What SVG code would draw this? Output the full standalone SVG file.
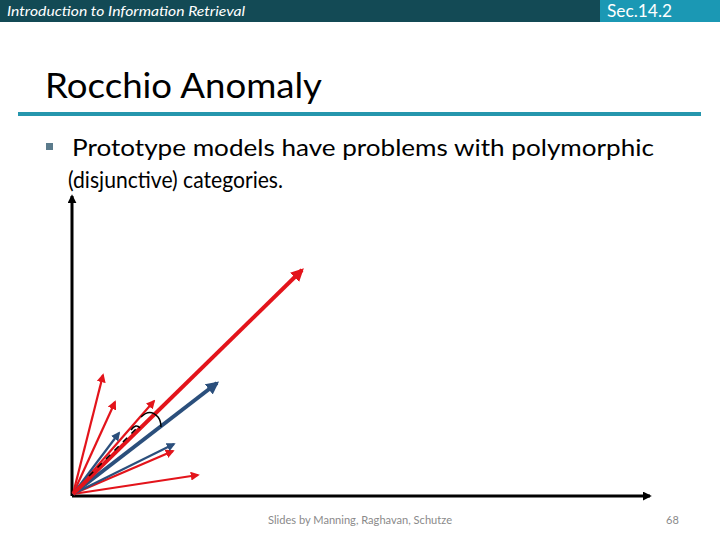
<svg xmlns="http://www.w3.org/2000/svg" width="720" height="540" viewBox="0 0 720 540">
<style>
.hdr{font-family:Lato,"Liberation Sans",Arial,sans-serif;fill:#ffffff}
.title{font-family:Lato,"Liberation Sans",Arial,sans-serif;font-size:35px;fill:#000}
.body{font-family:Lato,"Liberation Sans",Arial,sans-serif;font-size:24px;fill:#000}
.foot{font-family:Lato,"Liberation Sans",Arial,sans-serif;font-size:11px;fill:#8a8a8a}
.red{stroke:#e3141b;fill:none}
.blue{stroke:#2b4f7c;fill:none}
.axis{stroke:#000;stroke-width:3;fill:none}
</style>
<defs>
<marker id="ar" viewBox="0 0 10 10" refX="8" refY="5" markerWidth="9" markerHeight="9" markerUnits="userSpaceOnUse" orient="auto"><path d="M0,0L10,5L0,10z" fill="#e3141b"/></marker>
<marker id="arL" viewBox="0 0 10 10" refX="8" refY="5" markerWidth="13" markerHeight="13" markerUnits="userSpaceOnUse" orient="auto"><path d="M0,0L10,5L0,10z" fill="#e3141b"/></marker>
<marker id="ab" viewBox="0 0 10 10" refX="8" refY="5" markerWidth="9" markerHeight="9" markerUnits="userSpaceOnUse" orient="auto"><path d="M0,0L10,5L0,10z" fill="#2b4f7c"/></marker>
<marker id="abL" viewBox="0 0 10 10" refX="8" refY="5" markerWidth="13" markerHeight="13" markerUnits="userSpaceOnUse" orient="auto"><path d="M0,0L10,5L0,10z" fill="#2b4f7c"/></marker>
<marker id="ak" viewBox="0 0 10 10" refX="8" refY="5" markerWidth="9" markerHeight="9" markerUnits="userSpaceOnUse" orient="auto"><path d="M0,0L10,5L0,10z" fill="#000"/></marker>
</defs>
<rect width="720" height="540" fill="#fff"/>
<g id="header">
<rect x="0" y="0" width="600" height="22" fill="#134a55"/>
<rect x="600" y="0" width="120" height="22" fill="#1b98b4"/>
<text class="hdr" x="7" y="16" font-size="14" font-style="italic" textLength="238" lengthAdjust="spacingAndGlyphs">Introduction to Information Retrieval</text>
<text class="hdr" x="607" y="17" font-size="17" textLength="65" lengthAdjust="spacingAndGlyphs">Sec.14.2</text>
</g>
<g id="title">
<text class="title" x="45" y="98" textLength="277" lengthAdjust="spacingAndGlyphs">Rocchio Anomaly</text>
<rect x="18" y="112" width="683" height="4" fill="#2596ad"/>
</g>
<g id="bullet">
<rect x="46" y="143" width="7" height="7" fill="#5b7b8c"/>
<text class="body" x="72" y="156" textLength="582" lengthAdjust="spacingAndGlyphs">Prototype models have problems with polymorphic</text>
<text class="body" x="68" y="188" textLength="215" lengthAdjust="spacingAndGlyphs">(disjunctive) categories.</text>
</g>
<g id="connectors">
<line class="axis" x1="72" y1="496" x2="72" y2="196" marker-end="url(#ak)"/>
<line class="axis" x1="72" y1="496" x2="650" y2="496" marker-end="url(#ak)"/>
<line class="red" stroke-width="2.2" x1="73" y1="494" x2="103" y2="375" marker-end="url(#ar)"/>
<line class="red" stroke-width="2.2" x1="73" y1="494" x2="115" y2="402" marker-end="url(#ar)"/>
<line class="red" stroke-width="2.2" x1="73" y1="494" x2="154" y2="401" marker-end="url(#ar)"/>
<line class="red" stroke-width="2.2" x1="73" y1="494" x2="173" y2="451" marker-end="url(#ar)"/>
<line class="red" stroke-width="2.2" x1="73" y1="494" x2="198" y2="475" marker-end="url(#ar)"/>
<line class="blue" stroke-width="2.2" x1="73" y1="494" x2="119" y2="433" marker-end="url(#ab)"/>
<line class="blue" stroke-width="2.2" x1="73" y1="494" x2="174" y2="444" marker-end="url(#ab)"/>
<line class="blue" stroke-width="4" x1="73" y1="494" x2="217" y2="383" marker-end="url(#abL)"/>
<line class="red" stroke-width="4" x1="73" y1="494" x2="302" y2="270" marker-end="url(#arL)"/>
<line stroke="#000" stroke-width="1.5" stroke-dasharray="6,6" x1="89" y1="476" x2="139" y2="426"/>
<path d="M141,417 Q150,408 158,417 Q161,421 161,427" fill="none" stroke="#000" stroke-width="1.5"/>
<path d="M131,430 Q136,423 140,428" fill="none" stroke="#000" stroke-width="1.5"/>
</g>
<g id="footer">
<text class="foot" x="268" y="524" textLength="184" lengthAdjust="spacingAndGlyphs">Slides by Manning, Raghavan, Schutze</text>
<text class="foot" x="666" y="524">68</text>
</g>
</svg>
